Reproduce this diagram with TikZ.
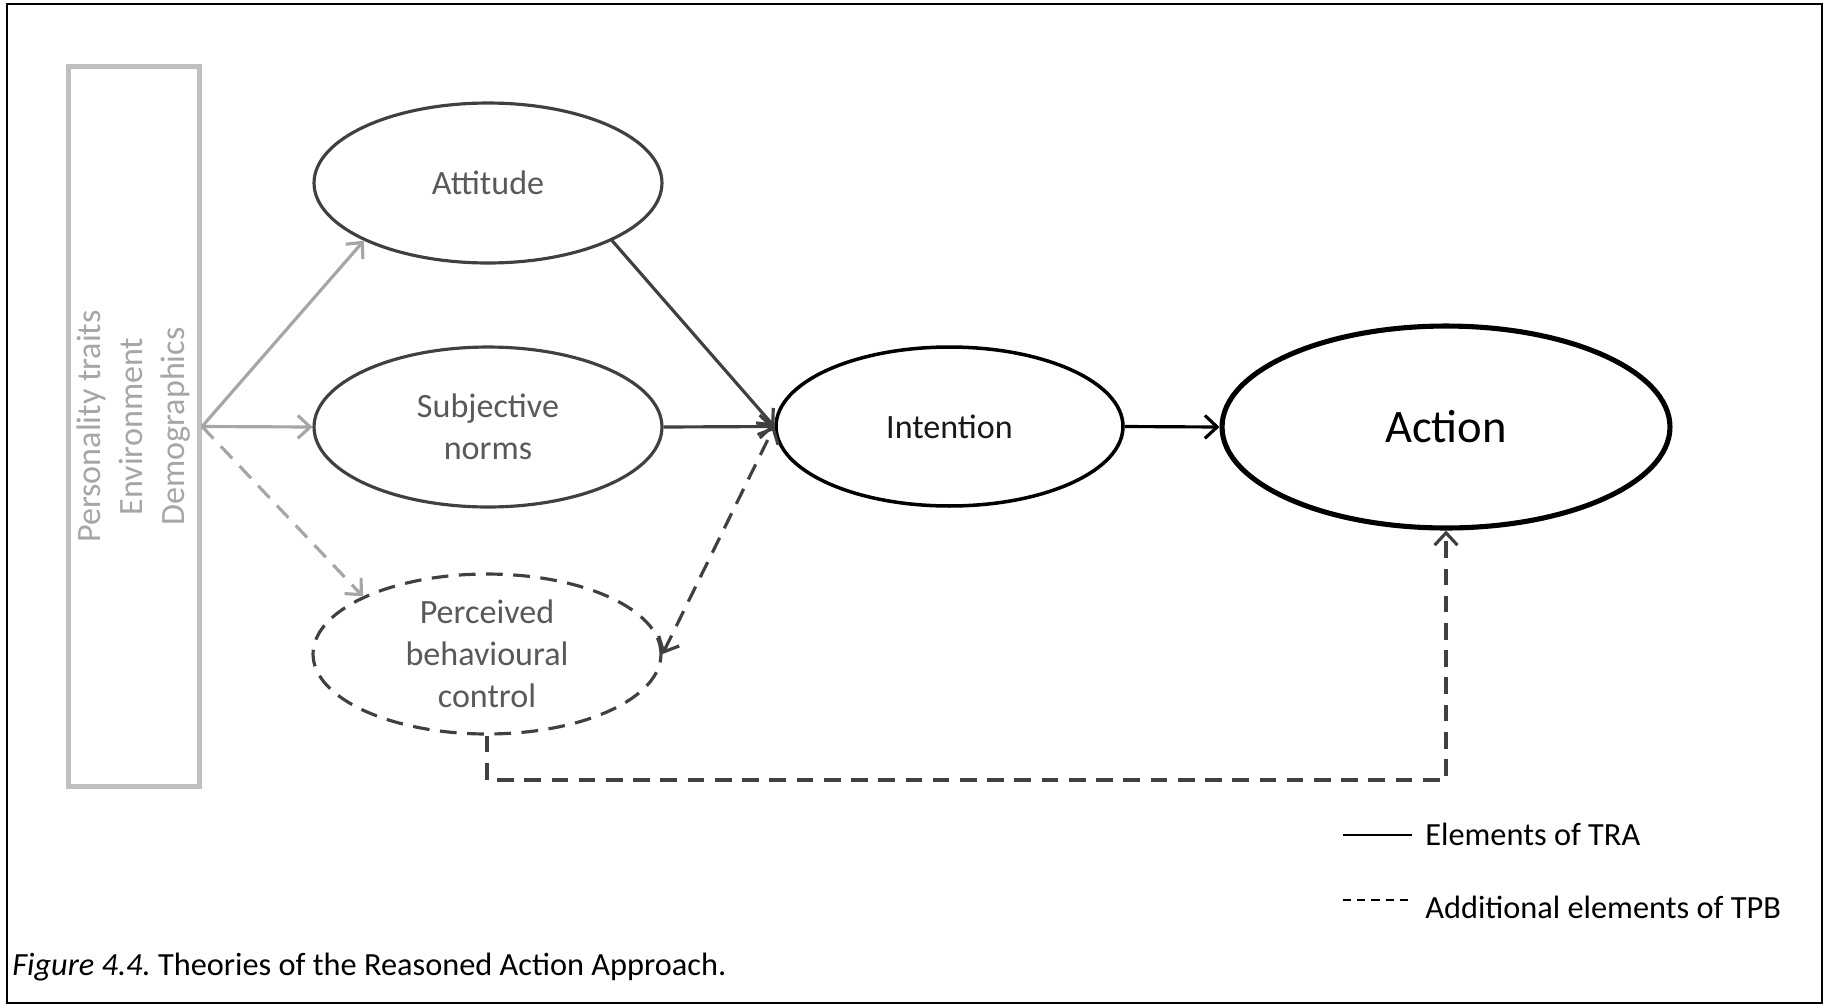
\documentclass[tikz,border=0pt]{standalone}
\usepackage{fontspec}
\setmainfont{Carlito}
\usepackage{tikz}
\usetikzlibrary{arrows.meta,shapes.geometric}
\definecolor{darkline}{RGB}{64,64,64}
\definecolor{lightline}{RGB}{166,166,166}
\definecolor{boxline}{RGB}{191,191,191}
\definecolor{labeltext}{RGB}{89,89,89}

\begin{document}
\begin{tikzpicture}[x=0.02cm, y=-0.02cm, >={Straight Barb[length=7pt,width=13pt]},
  every node/.style={font=\fontsize{19.4}{23.9}\selectfont},
  construct/.style={ellipse, draw=darkline, line width=1.8pt, minimum width=6.96cm, minimum height=3.2cm, inner sep=-4pt, align=center, text=labeltext},
  tpbdash/.style={dash pattern=on 9.5pt off 6pt},
  lightarrow/.style={->, draw=lightline, line width=1.8pt},
  darkarrow/.style={->, draw=darkline, line width=1.8pt},
  legendtext/.style={anchor=base west, inner sep=0pt, font=\fontsize{18.4}{22}\selectfont}]
\useasboundingbox (0,0) rectangle (1825,1005);
\draw[line width=1.6pt] (7,4) rectangle (1822,1003);

\node[rotate=90, draw=boxline, line width=2.9pt, minimum width=14.42cm, minimum height=2.62cm, align=center, text=lightline] (factors) at (134,426.5) {Personality traits\\Environment\\Demographics};

\node[construct] (attitude) at (488,183) {Attitude};
\node[construct] (norms) at (488,427) {Subjective\\norms};
\node[construct, tpbdash] (control) at (487,654) {Perceived\\behavioural\\control};
\node[construct, draw=black, text=black!90, line width=2pt, minimum width=6.94cm, minimum height=3.18cm] (intention) at (949.5,426.5) {Intention};
\node[construct, draw=black, text=black, line width=2.9pt, minimum width=8.96cm, minimum height=4.04cm, font=\fontsize{26.5}{32}\selectfont] (action) at (1446,427) {Action};

\draw[lightarrow] (factors.south) -- (attitude.south west);
\draw[lightarrow] (factors.south) -- (norms.west);
\draw[lightarrow, tpbdash] (factors.south) -- (control.north west);
\draw[darkarrow] (attitude.south east) -- (intention.west);
\draw[darkarrow] (norms.east) -- (intention.west);
\draw[darkarrow, <->, tpbdash] (control.east) -- (intention.west);
\draw[->, line width=1.8pt] (intention.east) -- (action.west);
\coordinate (detour) at (487,780);
\draw[darkarrow, tpbdash] (control.south) -- (detour) -| (action.south);

% legend
\coordinate (trastart) at (1343,835);
\coordinate (traend) at (1412,835);
\draw[line width=1pt] (trastart) -- (traend);
\node[legendtext] (tralabel) at (1425,845) {Elements of TRA};
\coordinate (tpbstart) at (1343,900);
\coordinate (tpbend) at (1408,900);
\draw[line width=1.1pt, dash pattern=on 4.6pt off 3.5pt] (tpbstart) -- (tpbend);
\node[legendtext] (tpblabel) at (1425,918) {Additional elements of TPB};

\node[legendtext] (caption) at (12,975) {\textit{Figure 4.4.}\ Theories of the Reasoned Action Approach.};
\end{tikzpicture}
\end{document}
